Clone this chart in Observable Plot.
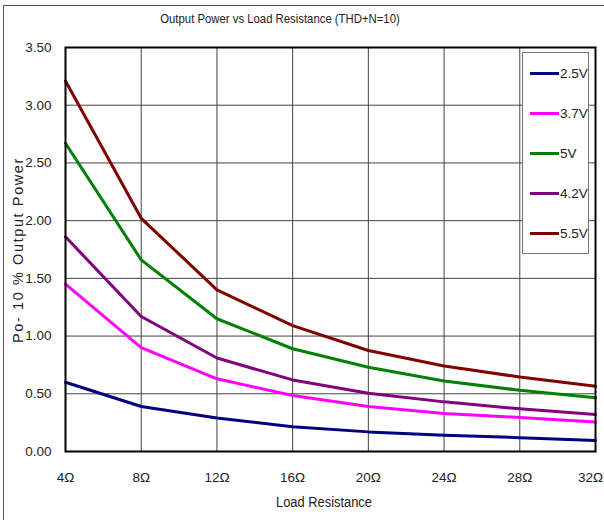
<!DOCTYPE html>
<html>
<head>
<meta charset="utf-8">
<script src="https://cdn.jsdelivr.net/npm/d3@7"></script>
<script src="https://cdn.jsdelivr.net/npm/@observablehq/plot@0.6"></script>
<style>
  html, body { margin: 0; padding: 0; background: #fff; }
  #wrap { position: relative; width: 604px; height: 520px; overflow: hidden; font-family: "Liberation Sans", Arial, sans-serif; color: #222; }
  #border { position: absolute; left: 3px; top: 5px; width: 700px; height: 600px; border-left: 1.5px solid #555; border-top: 1.5px solid #555; }
  #chart { position: absolute; left: 0; top: 0; }
  .t { position: absolute; white-space: nowrap; font-size: 14px; }
  #title { left: 280px; top: 11px; font-size: 13.5px; transform: translateX(-50%) scaleX(0.84); }
  #xlabel { left: 324px; top: 494px; transform: translateX(-50%) scaleX(0.92); }
  #ylabel { left: 18px; top: 250px; transform: translate(-50%, -50%) rotate(-90deg); letter-spacing: 1.6px; font-size: 14.5px; }
  #legend { position: absolute; left: 522px; top: 52px; width: 67px; height: 202px; border: 1.5px solid #777; background: #fff; box-sizing: border-box; }
  .li { position: absolute; left: 7px; height: 16px; display: flex; align-items: center; font-size: 13.5px; }
  .li span.sw { display: inline-block; width: 29px; height: 3px; margin-right: 1px; }
</style>
</head>
<body>
<div id="wrap">
  <div id="border"></div>
  <div id="chart"></div>
  <div id="title" class="t">Output Power vs Load Resistance (THD+N=10)</div>
  <div id="xlabel" class="t">Load Resistance</div>
  <div id="ylabel" class="t">Po- 10 % Output Power</div>
  <div id="legend"></div>
</div>
<script>
// Load resistance (ohms)
const resistance = [4, 8, 12, 16, 20, 24, 28, 32];
// Series names and colours
const seriesNames = ["2.5V", "3.7V", "5V", "4.2V", "5.5V"];
const seriesColors = ["#000080", "#ff00ff", "#008000", "#800080", "#800000"];
// Output power (W) per series
const power25 = [0.60, 0.39, 0.29, 0.215, 0.17, 0.14, 0.12, 0.095];
const power37 = [1.45, 0.90, 0.63, 0.485, 0.39, 0.33, 0.295, 0.255];
const power50 = [2.67, 1.66, 1.15, 0.89, 0.73, 0.61, 0.53, 0.465];
const power42 = [1.86, 1.17, 0.81, 0.62, 0.505, 0.43, 0.37, 0.32];
const power55 = [3.21, 2.02, 1.40, 1.09, 0.875, 0.74, 0.645, 0.565];
// Axis ticks
const yTicks = [0, 0.5, 1, 1.5, 2, 2.5, 3, 3.5];

const seriesValues = [power25, power37, power50, power42, power55];
const rows = [];
seriesNames.forEach((name, i) => {
  resistance.forEach((r, j) => rows.push({series: name, r, p: seriesValues[i][j]}));
});

const chart = Plot.plot({
  width: 604,
  height: 520,
  marginTop: 47,
  marginBottom: 69,
  marginLeft: 65,
  marginRight: 9,
  style: {fontFamily: '"Liberation Sans", Arial, sans-serif', fontSize: "13.5px", color: "#222", background: "transparent"},
  x: {domain: [4, 32], ticks: resistance, tickFormat: d => d + "Ω", tickSize: 0, tickPadding: 21, label: null},
  y: {domain: [0, 3.5], ticks: yTicks, tickFormat: d3.format(".2f"), tickSize: 0, tickPadding: 14, label: null},
  color: {domain: seriesNames, range: seriesColors},
  marks: [
    Plot.gridX(resistance, {stroke: "#444", strokeOpacity: 1, strokeWidth: 1}),
    Plot.gridY(yTicks, {stroke: "#444", strokeOpacity: 1, strokeWidth: 1}),
    Plot.line(rows, {x: "r", y: "p", z: "series", stroke: "series", strokeWidth: 3}),
    Plot.frame({stroke: "#000", strokeWidth: 2})
  ]
});
document.getElementById("chart").appendChild(chart);

// Keep the last x tick label inside the window
d3.select(chart).selectAll("text").filter(function() { return this.textContent === "32Ω"; })
  .attr("dx", -5);

// Legend
const legend = document.getElementById("legend");
seriesNames.forEach((name, i) => {
  const d = document.createElement("div");
  d.className = "li";
  d.style.top = (12 + i * 40) + "px";
  d.innerHTML = `<span class="sw" style="background:${seriesColors[i]}"></span>${name}`;
  legend.appendChild(d);
});
</script>
</body>
</html>
